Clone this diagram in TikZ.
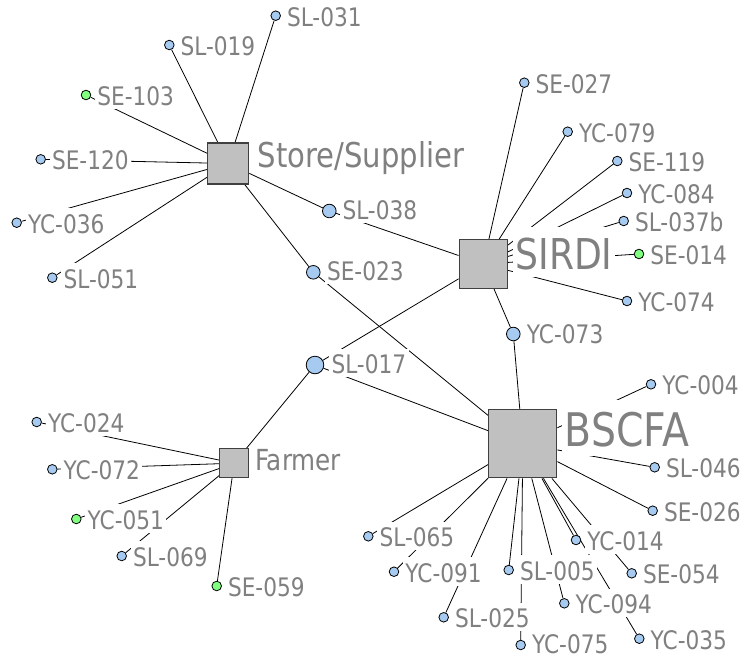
\documentclass[tikz,border=0pt]{standalone}
\usepackage{fontspec}
\newfontfamily\lbl{DejaVu Sans}[FakeStretch=0.85]
\usetikzlibrary{backgrounds}
\definecolor{nodeblue}{HTML}{A6CAF0}
\definecolor{nodegreen}{HTML}{80FF80}
\definecolor{hubfill}{HTML}{C0C0C0}
\definecolor{hubdraw}{HTML}{404040}
\definecolor{labgray}{HTML}{808080}
\tikzset{
 leafb/.style={circle, draw=black, line width=0.8pt, fill=nodeblue, minimum size=9.6pt, inner sep=0pt},
 leafg/.style={leafb, fill=nodegreen},
 midc/.style={leafb, minimum size=13.6pt},
 bigc/.style={leafb, minimum size=17.6pt},
 hub/.style={rectangle, draw=hubdraw, line width=1.2pt, fill=hubfill, minimum size=#1, inner sep=0pt},
 lab/.style={font=\lbl\fontsize{25.5}{25.5}\selectfont, text=labgray, fill=white, inner xsep=2.5pt, inner ysep=0pt, text height=25pt, text depth=3.5pt, anchor=base west},
 hublab/.style args={#1/#2}{font=\lbl\fontsize{#1}{#1}\selectfont, text=labgray, fill=white, inner xsep=2.5pt, inner ysep=0pt, text height=#1pt, text depth=#2pt, anchor=base west},
 conn/.style={draw=black, line width=0.8pt},
}
% name, x, y, style, text, label x-offset, label baseline offset
\newcommand\mkleaf[7]{%
 \node[#4] (#1) at (#2,#3) {};
 \node[lab] (#1-l) at ([xshift=#6pt, yshift=-#7pt]#1.center) {#5};}
\begin{document}
\begin{tikzpicture}[x=1pt,y=-1pt]
\path[use as bounding box] (0,0) rectangle (753,659);
% hubs
\node[hub=41pt] (store) at (228.3,163.5) {};
\node[hub=48.3pt] (sirdi) at (483.3,264) {};
\node[hub=68pt] (bscfa) at (522.8,443.8) {};
\node[hub=28.7pt] (farmer) at (234.2,463.2) {};
\node[hublab=34.2/6.5] (store-l) at (255,167) {Store/Supplier};
\node[hublab=42.5/8] (sirdi-l) at (512.7,269) {SIRDI};
\node[hublab=46.3/9.5] (bscfa-l) at (562,446.5) {BSCFA};
\node[hublab=29/5.5] (farmer-l) at (252.3,470.5) {Farmer};
% connecting circles
\mkleaf{sl038}{329.3}{211}{midc}{SL-038}{10.5}{8}
\mkleaf{se023}{313.3}{272.3}{midc}{SE-023}{11}{8}
\mkleaf{sl017}{315}{365}{bigc}{SL-017}{13.8}{8.5}
\mkleaf{yc073}{513.3}{334}{midc}{YC-073}{10.9}{9}
% store leaves
\mkleaf{sl031}{275.7}{15.7}{leafb}{SL-031}{8.6}{10.3}
\mkleaf{sl019}{169.3}{45}{leafb}{SL-019}{8.6}{10.3}
\mkleaf{se103}{86}{95}{leafg}{SE-103}{8.6}{10.3}
\mkleaf{se120}{40.7}{159.3}{leafb}{SE-120}{8.6}{10.3}
\mkleaf{yc036}{16.7}{222.7}{leafb}{YC-036}{8.6}{10.3}
\mkleaf{sl051}{52.3}{277.7}{leafb}{SL-051}{8.6}{10.3}
% sirdi leaves
\mkleaf{se027}{524.3}{82.7}{leafb}{SE-027}{8.6}{10.3}
\mkleaf{yc079}{567.7}{131.7}{leafb}{YC-079}{8.6}{10.3}
\mkleaf{se119}{617.3}{161}{leafb}{SE-119}{8.6}{10.3}
\mkleaf{yc084}{627}{193}{leafb}{YC-084}{8.6}{10.3}
\mkleaf{sl037b}{623.7}{221}{leafb}{SL-037b}{8.6}{10.3}
\mkleaf{se014}{639}{254}{leafg}{SE-014}{8.6}{10.3}
\mkleaf{yc074}{627}{301}{leafb}{YC-074}{8.6}{10.3}
% farmer leaves
\mkleaf{yc024}{36.7}{422}{leafb}{YC-024}{8.6}{10.3}
\mkleaf{yc072}{52.3}{469.3}{leafb}{YC-072}{8.6}{10.3}
\mkleaf{yc051}{76.3}{519}{leafg}{YC-051}{8.6}{10.3}
\mkleaf{sl069}{121.7}{556}{leafb}{SL-069}{8.6}{10.3}
\mkleaf{se059}{216.7}{586}{leafg}{SE-059}{8.6}{10.3}
% bscfa leaves
\mkleaf{yc004}{651}{384.3}{leafb}{YC-004}{8.6}{10.3}
\mkleaf{sl046}{654.7}{467.3}{leafb}{SL-046}{8.6}{10.3}
\mkleaf{se026}{652.7}{510.7}{leafb}{SE-026}{8.6}{10.3}
\mkleaf{sl065}{368.3}{536.3}{leafb}{SL-065}{8.6}{10.3}
\mkleaf{yc091}{394}{571.7}{leafb}{YC-091}{8.6}{10.3}
\mkleaf{sl025}{443.7}{617.3}{leafb}{SL-025}{8.6}{10.3}
\mkleaf{sl005}{508.7}{570}{leafb}{SL-005}{8.6}{10.3}
\mkleaf{yc075}{520.7}{645}{leafb}{YC-075}{8.6}{8.5}
\mkleaf{yc094}{564.3}{603.3}{leafb}{YC-094}{8.6}{10.3}
\mkleaf{yc014}{576}{540}{leafb}{YC-014}{8.6}{10.3}
\mkleaf{se054}{631.7}{573.3}{leafb}{SE-054}{8.6}{10.3}
\mkleaf{yc035}{639.3}{638.7}{leafb}{YC-035}{8.6}{10.3}
% edges
\begin{scope}[on background layer]
\fill[white] (0,0) rectangle (753,659);
\foreach \t in {sl031,sl019,se103,se120,yc036,sl051,sl038,se023}
  \draw[conn] (store) -- (\t);
\foreach \t in {se027,yc079,se119,yc084,sl037b,se014,yc074,yc073,sl038,sl017}
  \draw[conn] (sirdi) -- (\t);
\foreach \t in {yc073,se023,sl017,yc004,sl046,se026,sl065,yc091,sl025,sl005,yc075,yc094,yc014,se054,yc035}
  \draw[conn] (bscfa) -- (\t);
\foreach \t in {yc024,yc072,yc051,sl069,se059,sl017}
  \draw[conn] (farmer) -- (\t);
\end{scope}
\end{tikzpicture}
\end{document}
